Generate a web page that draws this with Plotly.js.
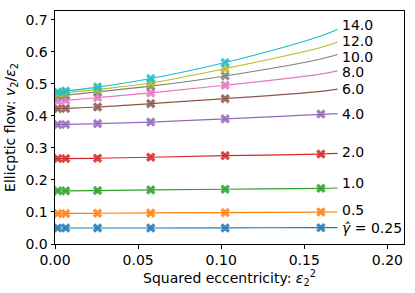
<!DOCTYPE html>
<html>
<head>
<meta charset="utf-8">
<script src="https://cdn.plot.ly/plotly-3.0.1.min.js"></script>
<style>html,body{margin:0;padding:0;background:#fff;}#chart{width:415px;height:293px;}</style>
</head>
<body>
<div id="chart"></div>
<script>
// Data
const gammaLabels = ["<i>γ̂</i> = 0.25", "0.5", "1.0", "2.0", "4.0", "6.0", "8.0", "10.0", "12.0", "14.0"];
const markerX = [0.0016, 0.0064, 0.0256, 0.0576, 0.1024, 0.16];
const fitX = [0, 0.0016, 0.0064, 0.0256, 0.0576, 0.1024, 0.16, 0.17];

// marker values per series (null = no marker)
const v025 = [0.050, 0.050, 0.050, 0.050, 0.050, 0.051];
const v05  = [0.095, 0.095, 0.096, 0.0965, 0.098, 0.100];
const v1   = [0.166, 0.166, 0.167, 0.169, 0.171, 0.174];
const v2   = [0.267, 0.267, 0.268, 0.271, 0.276, 0.281];
const v4   = [0.373, 0.3735, 0.376, 0.381, 0.391, 0.406];
const v6   = [0.423, 0.4235, 0.428, 0.4387, 0.454, null];
const v8   = [0.447, 0.449, 0.4575, 0.472, 0.496, null];
const v10  = [0.4625, 0.465, 0.475, 0.493, 0.525, null];
const v12  = [0.470, 0.473, 0.483, 0.503, 0.548, null];
const v14  = [0.475, 0.478, 0.491, 0.517, 0.567, null];

// fitted curve values
const f025 = [0.050, 0.050, 0.050, 0.050, 0.050, 0.0505, 0.051, 0.051];
const f05  = [0.095, 0.095, 0.0955, 0.096, 0.097, 0.098, 0.0995, 0.100];
const f1   = [0.166, 0.166, 0.166, 0.167, 0.169, 0.171, 0.174, 0.175];
const f2   = [0.267, 0.267, 0.267, 0.268, 0.271, 0.276, 0.281, 0.283];
const f4   = [0.373, 0.373, 0.3735, 0.376, 0.381, 0.391, 0.405, 0.4075];
const f6   = [0.422, 0.423, 0.424, 0.428, 0.4385, 0.454, 0.477, 0.484];
const f8   = [0.446, 0.447, 0.449, 0.4575, 0.472, 0.496, 0.531, 0.541];
const f10  = [0.461, 0.462, 0.465, 0.475, 0.493, 0.525, 0.578, 0.592];
const f12  = [0.469, 0.470, 0.473, 0.483, 0.503, 0.548, 0.614, 0.631];
const f14  = [0.474, 0.475, 0.478, 0.490, 0.517, 0.567, 0.650, 0.670];

const markerSets = [v025, v05, v1, v2, v4, v6, v8, v10, v12, v14];
const fitSets = [f025, f05, f1, f2, f4, f6, f8, f10, f12, f14];
const colors = ["#1f77b4", "#ff7f0e", "#2ca02c", "#d62728", "#9467bd", "#8c564b", "#e377c2", "#7f7f7f", "#bcbd22", "#17becf"];
const labelShift = [0, 2, 5, 1, 0, 0, -1, -2, 1, 5];

const traces = [];
fitSets.forEach((f, i) => {
  traces.push({x: fitX, y: f, mode: "lines", line: {color: colors[i], width: 1.2, shape: "spline"}, hoverinfo: "skip"});
  traces.push({x: markerX, y: markerSets[i], mode: "markers", marker: {symbol: "x", size: 8.5, color: colors[i], opacity: 0.85, line: {width: 0}}});
});

const annotations = fitSets.map((f, i) => ({
  x: 0.1722, y: f[f.length - 1], xref: "x", yref: "y", xanchor: "left", yanchor: "middle",
  yshift: labelShift[i], text: gammaLabels[i], showarrow: false, borderpad: 0,
  font: {family: "DejaVu Sans", size: 14, color: "#000"}
}));

const axisCommon = {
  showgrid: false, zeroline: false, showline: true, mirror: true, linecolor: "#000", linewidth: 1,
  ticks: "outside", ticklen: 3.5, tickwidth: 1, tickcolor: "#000",
  tickfont: {family: "DejaVu Sans", size: 14, color: "#000"}
};

const layout = {
  width: 415, height: 293,
  margin: {l: 55, r: 11, t: 11, b: 49},
  showlegend: false,
  paper_bgcolor: "#fff", plot_bgcolor: "#fff",
  xaxis: Object.assign({}, axisCommon, {range: [0, 0.21], tick0: 0, dtick: 0.05, tickformat: ".2f",
    title: {text: "Squared eccentricity: <i>ε</i><sub>2</sub><sup>2</sup>", font: {family: "DejaVu Sans", size: 14, color: "#000"}, standoff: 3}}),
  yaxis: Object.assign({}, axisCommon, {range: [0, 0.728], tick0: 0, dtick: 0.1, tickformat: ".1f",
    title: {text: "Ellicptic flow: <i>v</i><sub>2</sub>/<i>ε</i><sub>2</sub>", font: {family: "DejaVu Sans", size: 14, color: "#000"}, standoff: 6}}),
  annotations: annotations
};

Plotly.newPlot("chart", traces, layout, {staticPlot: true, displayModeBar: false});
</script>
</body>
</html>
